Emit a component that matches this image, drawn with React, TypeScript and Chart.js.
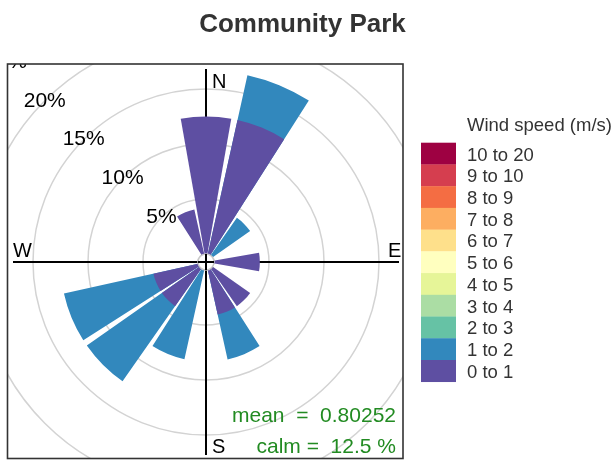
import React, { useEffect, useRef } from "react";
import { Chart, registerables } from "chart.js";

Chart.register(...registerables);

// ---------- data ----------
const directions = ["N", "NNE", "NE", "ENE", "E", "ESE", "SE", "SSE", "S", "SSW", "SW", "WSW", "W", "WNW", "NW", "NNW"];
const speedBins = ["0 to 1", "1 to 2", "2 to 3", "3 to 4", "4 to 5", "5 to 6", "6 to 7", "7 to 8", "8 to 9", "9 to 10", "10 to 20"];
const binColors = ["#5E4FA2", "#3288BD", "#66C2A5", "#ABDDA4", "#E6F598", "#FFFFBF", "#FEE08B", "#FDAE61", "#F46D43", "#D53E4F", "#9E0142"];

// frequency (%) per direction for each speed bin
const freq0to1 = [12.5, 12.5, 0, 0, 4.17, 0, 4.17, 4.17, 0, 0, 4.17, 4.17, 0, 0, 0, 4.17];
const freq1to2 = [0, 4.17, 4.17, 0, 0, 0, 0, 4.17, 0, 8.33, 8.33, 8.33, 0, 0, 0, 0];
const freq2to3 = [0, 0, 0, 0, 0, 0, 0, 0, 0, 0, 0, 0, 0, 0, 0, 0];
const freq3to4 = [0, 0, 0, 0, 0, 0, 0, 0, 0, 0, 0, 0, 0, 0, 0, 0];
const freq4to5 = [0, 0, 0, 0, 0, 0, 0, 0, 0, 0, 0, 0, 0, 0, 0, 0];
const freq5to6 = [0, 0, 0, 0, 0, 0, 0, 0, 0, 0, 0, 0, 0, 0, 0, 0];
const freq6to7 = [0, 0, 0, 0, 0, 0, 0, 0, 0, 0, 0, 0, 0, 0, 0, 0];
const freq7to8 = [0, 0, 0, 0, 0, 0, 0, 0, 0, 0, 0, 0, 0, 0, 0, 0];
const freq8to9 = [0, 0, 0, 0, 0, 0, 0, 0, 0, 0, 0, 0, 0, 0, 0, 0];
const freq9to10 = [0, 0, 0, 0, 0, 0, 0, 0, 0, 0, 0, 0, 0, 0, 0, 0];
const freq10to20 = [0, 0, 0, 0, 0, 0, 0, 0, 0, 0, 0, 0, 0, 0, 0, 0];

const tickValues = [5, 10, 15, 20, 25];
const tickLabels = ["5%", "10%", "15%", "20%", "25%"];
const compassLabels = ["N", "E", "S", "W"];
const chartTitle = "Community Park";
const legendTitle = "Wind speed (m/s)";
const meanText = "mean  =  0.80252";
const calmText = "calm =  12.5 %";

// ---------- styling / geometry ----------
const FONT = '"Liberation Sans", Arial, sans-serif';
const BOX = { l: 7.5, t: 64, r: 403, b: 458.5 };
const WEDGE_DEG = 20;
const GAP_DEG = 2.5;
const PX_PER_PCT = 11;
const OFFSET_PX = 8;

const series = [freq0to1, freq1to2, freq2to3, freq3to4, freq4to5, freq5to6, freq6to7, freq7to8, freq8to9, freq9to10, freq10to20];

function buildDatasets() {
  const cum: number[][] = [];
  series.forEach((s, k) => {
    cum.push(s.map((v, i) => v + (k > 0 ? cum[k - 1][i] : 0)));
  });
  return series.map((s, k) => ({
    label: speedBins[k],
    data: directions.flatMap((_, i) => [cum[k][i], 0]),
    backgroundColor: directions.flatMap((_, i) => [s[i] > 0 ? binColors[k] : "rgba(0,0,0,0)", "rgba(0,0,0,0)"]),
    borderWidth: 0,
    angle: directions.flatMap(() => [WEDGE_DEG, GAP_DEG]),
  }));
}

const roseDecor = {
  id: "roseDecor",
  beforeDraw(chart: any) {
    const ctx = chart.ctx;
    ctx.save();
    ctx.beginPath();
    ctx.rect(BOX.l, BOX.t, BOX.r - BOX.l, BOX.b - BOX.t);
    ctx.clip();
  },
  beforeDatasetsDraw(chart: any) {
    const ctx = chart.ctx;
    const s = chart.scales.r;
    const cx = s.xCenter;
    const cy = s.yCenter;
    const L = s.drawingArea - 5;
    ctx.save();
    ctx.strokeStyle = "#000";
    ctx.lineWidth = 2;
    ctx.beginPath();
    ctx.moveTo(cx - L, cy);
    ctx.lineTo(cx + L, cy);
    ctx.moveTo(cx, cy - L);
    ctx.lineTo(cx, cy + L);
    ctx.stroke();
    ctx.restore();
  },
  afterDatasetsDraw(chart: any) {
    const ctx = chart.ctx;
    const s = chart.scales.r;
    const cx = s.xCenter;
    const cy = s.yCenter;
    const r0 = s.getDistanceFromCenterForValue(0);
    // calm circle
    ctx.save();
    ctx.beginPath();
    ctx.arc(cx, cy, r0, 0, Math.PI * 2);
    ctx.fillStyle = "#fff";
    ctx.fill();
    ctx.strokeStyle = "#C8C8C8";
    ctx.lineWidth = 1.5;
    ctx.stroke();
    ctx.strokeStyle = "#000";
    ctx.lineWidth = 2;
    ctx.beginPath();
    ctx.moveTo(cx - r0, cy);
    ctx.lineTo(cx + r0, cy);
    ctx.moveTo(cx, cy - r0);
    ctx.lineTo(cx, cy + r0);
    ctx.stroke();

    // percentage labels along the NW direction
    ctx.fillStyle = "#000";
    ctx.font = `21px ${FONT}`;
    ctx.textAlign = "center";
    ctx.textBaseline = "middle";
    const a = Math.PI / 4;
    tickValues.forEach((v, i) => {
      const r = s.getDistanceFromCenterForValue(v);
      ctx.fillText(tickLabels[i], cx - r * Math.sin(a), cy - r * Math.cos(a));
    });

    // compass letters
    const L = s.drawingArea - 5;
    ctx.font = `20px ${FONT}`;
    ctx.textAlign = "left";
    ctx.textBaseline = "alphabetic";
    ctx.fillText(compassLabels[0], cx + 6, cy - L + 19);
    ctx.fillText(compassLabels[1], cx + L - 11, cy - 5);
    ctx.fillText(compassLabels[2], cx + 6, cy + L - 2);
    ctx.fillText(compassLabels[3], cx - L, cy - 5);

    // mean / calm
    ctx.fillStyle = "#228B22";
    ctx.font = `21px ${FONT}`;
    ctx.textAlign = "right";
    ctx.fillText(meanText, 396, 421.5);
    ctx.fillText(calmText, 396, 453);
    ctx.restore();

    // release clip from beforeDraw
    ctx.restore();

    // panel border
    ctx.save();
    ctx.strokeStyle = "#333";
    ctx.lineWidth = 1.6;
    ctx.strokeRect(BOX.l, BOX.t, BOX.r - BOX.l, BOX.b - BOX.t);
    ctx.restore();
  },
  afterDraw(chart: any) {
    const ctx = chart.ctx;
    ctx.save();
    // title
    ctx.fillStyle = "#333";
    ctx.font = `bold 26px ${FONT}`;
    ctx.textAlign = "center";
    ctx.textBaseline = "alphabetic";
    ctx.fillText(chartTitle, 302.5, 31.5);

    // legend
    const lx = 421;
    const lw = 35;
    const top = 142.7;
    const h = 21.73;
    ctx.font = `18.5px ${FONT}`;
    ctx.textAlign = "left";
    ctx.fillText(legendTitle, 467, 130.5);
    const n = speedBins.length;
    for (let j = 0; j < n; j++) {
      const k = n - 1 - j;
      const y = top + j * h;
      ctx.fillStyle = binColors[k];
      ctx.fillRect(lx, y, lw, h + 0.3);
      ctx.fillStyle = "#333";
      ctx.fillText(speedBins[k], 467, y + h / 2 + 7);
    }
    ctx.restore();
  },
};

export default function App() {
  const canvasRef = useRef<HTMLCanvasElement | null>(null);

  useEffect(() => {
    const canvas = canvasRef.current;
    if (!canvas) return;
    const chart = new Chart(canvas, {
      type: "polarArea",
      data: {
        labels: directions.flatMap((d) => [d, ""]),
        datasets: buildDatasets() as any,
      },
      options: {
        responsive: false,
        animation: false,
        devicePixelRatio: 1,
        events: [],
        layout: { padding: { left: 8, top: 64, right: 210, bottom: 2 } },
        plugins: {
          legend: { display: false },
          title: { display: false },
          tooltip: { enabled: false },
        },
        scales: {
          r: {
            min: -OFFSET_PX / PX_PER_PCT,
            max: 198 / PX_PER_PCT - OFFSET_PX / PX_PER_PCT,
            startAngle: -WEDGE_DEG / 2,
            ticks: { display: false },
            grid: { circular: true, color: "#D3D3D3", lineWidth: 1.5 },
            angleLines: { display: false },
            pointLabels: { display: false },
            afterBuildTicks: (scale: any) => {
              scale.ticks = [0, ...tickValues].map((v) => ({ value: v }));
            },
          },
        } as any,
      },
      plugins: [roseDecor],
    });
    return () => chart.destroy();
  }, []);

  return (
    <div style={{ position: "fixed", left: 0, top: 0, width: 614, height: 462, background: "#fff" }}>
      <canvas ref={canvasRef} width={614} height={462} style={{ display: "block" }} />
    </div>
  );
}
